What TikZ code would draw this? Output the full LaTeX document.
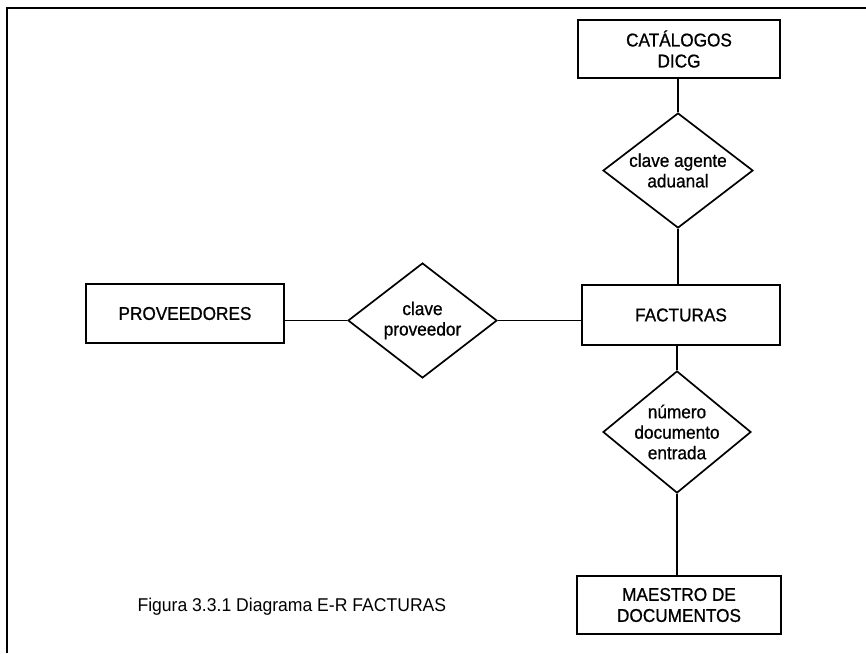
\documentclass[tikz,border=0pt]{standalone}
\usepackage{fontspec}
\setmainfont{Liberation Sans}[FakeStretch=0.95]
\newfontfamily\boxfont{Liberation Sans}[FakeStretch=0.93,FakeBold=0.8]
\usetikzlibrary{shapes.geometric}
\tikzset{
  ent/.style={draw, line width=1.7pt, rectangle, inner sep=0pt, align=center,
    font=\boxfont\fontsize{18.5}{21}\selectfont},
  rel/.style={draw, line width=1.7pt, diamond, inner sep=0pt},
  reltext/.style={align=center, font=\boxfont\fontsize{18.5}{20.5}\selectfont},
  conn/.style={line width=1.7pt},
  frame/.style={line width=2pt}
}
\begin{document}
\begin{tikzpicture}[x=1pt,y=-1pt]
\useasboundingbox (0,0) rectangle (866,653);
% frame
\coordinate (fa) at (7,653);
\coordinate (fb) at (7,8);
\coordinate (fc) at (866,8);
\draw[frame] (fa) -- (fb) -- (fc);
% entities
\node[ent, minimum width=202pt, minimum height=58pt] (cat) at (679,49) {CATÁLOGOS\\DICG};
\node[ent, minimum width=198pt, minimum height=60pt] (fac) at (681,315) {FACTURAS};
\node[ent, minimum width=204pt, minimum height=58pt] (mae) at (679,605) {MAESTRO DE\\DOCUMENTOS};
\node[ent, minimum width=198pt, minimum height=59pt] (prov) at (185,313.5) {PROVEEDORES};
% relationships
\node[rel, minimum width=150pt, minimum height=115pt] (d1) at (678,170.5) {};
\node[reltext] (t1) at (d1.center) {clave agente\\aduanal};
\node[rel, minimum width=149pt, minimum height=115pt] (d2) at (422.5,320.5) {};
\node[reltext] (t2) at (d2.center) {clave\\proveedor};
\node[rel, minimum width=148pt, minimum height=122pt] (d3) at (677,432) {};
\node[reltext] (t3) at (d3.center) {número\\documento\\entrada};
% connectors
\draw[conn] (d1.north |- cat.south) -- (d1.north);
\draw[conn] (d1.south) -- (d1.south |- fac.north);
\draw[conn] (fac.south -| d3.north) -- (d3.north);
\draw[conn] (d3.south) -- (d3.south |- mae.north);
\draw[conn] (d2.west -| prov.east) -- (d2.west);
\draw[conn] (d2.east) -- (d2.east -| fac.west);
% caption
\node[font=\fontsize{18.5}{22}\selectfont, anchor=west] (cap) at (134,607) {Figura 3.3.1 Diagrama E-R FACTURAS};
\end{tikzpicture}
\end{document}
